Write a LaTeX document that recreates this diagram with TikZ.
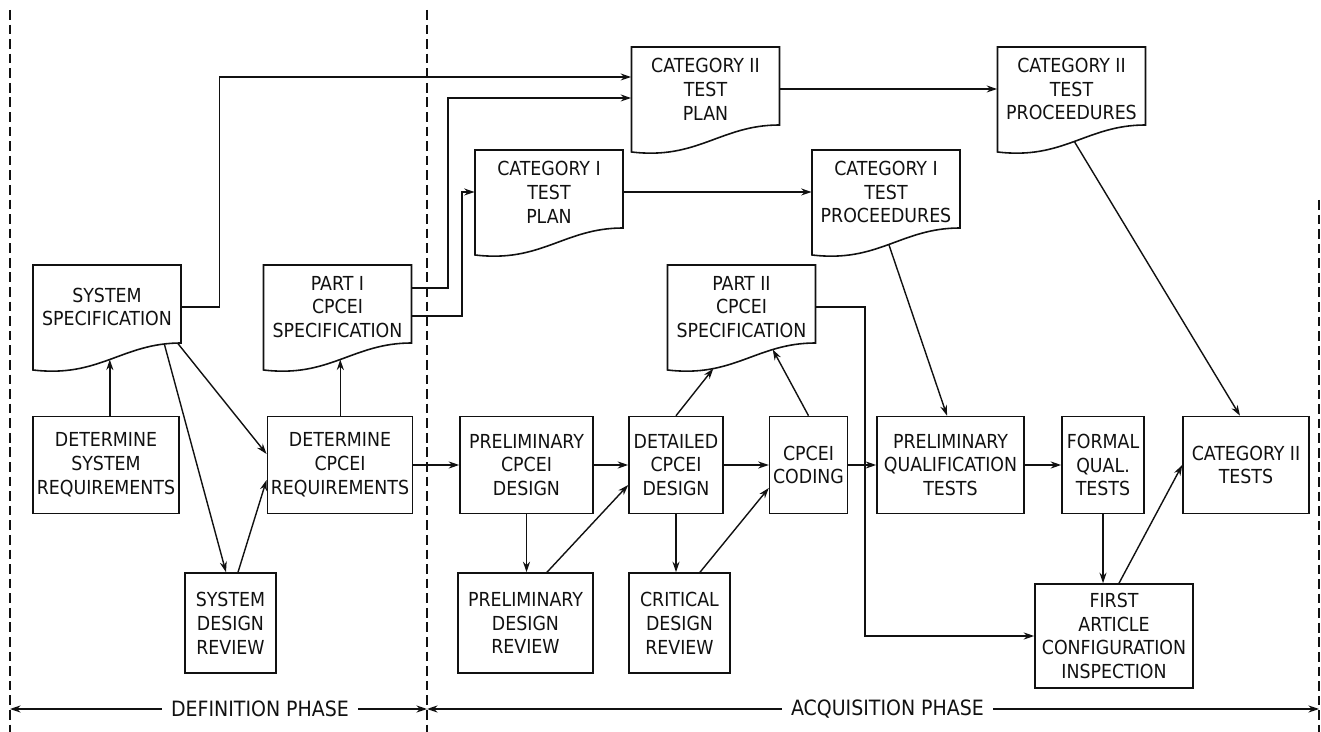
\documentclass[tikz,border=0pt]{standalone}
\usepackage{fontspec}
\newfontfamily\diagfont{DejaVu Sans Condensed}
\usetikzlibrary{arrows.meta}
\definecolor{ink}{HTML}{111111}

% outline of a document symbol round a named node, with points on its wavy foot
\newcommand{\docframe}[1]{%
  \draw[line width=0.9pt, color=ink] ([shift={(-1.48cm,-1.26cm)}]#1.center) -- ([shift={(-1.48cm,0.84cm)}]#1.center)
    -- ([shift={(1.48cm,0.84cm)}]#1.center) -- ([shift={(1.48cm,-0.72cm)}]#1.center)
    .. controls ([shift={(0.30cm,-0.72cm)}]#1.center) and ([shift={(-0.15cm,-1.42cm)}]#1.center)
    .. ([shift={(-1.48cm,-1.26cm)}]#1.center)
    coordinate[pos=0.02] (#1-w0) coordinate[pos=0.1] (#1-w1) coordinate[pos=0.28] (#1-w2)
    coordinate[pos=0.5] (#1-w3) coordinate[pos=0.73] (#1-w4) -- cycle;}

\begin{document}
\begin{tikzpicture}[x=0.02cm, y=-0.02cm,
    stepbox/.style={draw=ink, line width=0.9pt, minimum height=1.94cm, inner sep=2pt,
                    align=center, text=ink, font=\diagfont\fontsize{11pt}{13.6pt}\selectfont},
    docbox/.style={minimum width=2.96cm, inner sep=2pt, align=center, text=ink,
                   font=\diagfont\fontsize{11pt}{13.6pt}\selectfont},
    phaselabel/.style={inner sep=5pt, text=ink, font=\diagfont\fontsize{12pt}{14pt}\selectfont},
    flow/.style={line width=0.8pt, color=ink, -{Stealth[length=6pt,width=4pt]}},
    divider/.style={line width=0.8pt, color=ink, dash pattern=on 5.5pt off 2.8pt}]
    \useasboundingbox (0,0) rectangle (1321,732);

    % phase boundaries
    \draw[divider] (10,10) -- (10,732);
    \draw[divider] (427,10) -- (427,732);
    \draw[divider] (1319,200) -- (1319,732);

    % documents
    \node[docbox] (ssp) at (107,307) {SYSTEM\\SPECIFICATION};
    \node[docbox] (p1s) at (337.5,307) {PART I\\CPCEI\\SPECIFICATION};
    \node[docbox] (c2p) at (705.5,89) {CATEGORY II\\TEST\\PLAN};
    \node[docbox] (c1p) at (549,192) {CATEGORY I\\TEST\\PLAN};
    \node[docbox] (c1r) at (886,192) {CATEGORY I\\TEST\\PROCEEDURES};
    \node[docbox] (c2r) at (1071.5,89) {CATEGORY II\\TEST\\PROCEEDURES};
    \node[docbox] (p2s) at (741.5,307) {PART II\\CPCEI\\SPECIFICATION};
    \foreach \d in {ssp,p1s,c2p,c1p,c1r,c2r,p2s} {\docframe{\d}}

    % activities
    \node[stepbox, minimum width=2.92cm] (dsr) at (106,465) {DETERMINE\\SYSTEM\\REQUIREMENTS};
    \node[stepbox, minimum width=2.88cm] (dcr) at (340,465) {DETERMINE\\CPCEI\\REQUIREMENTS};
    \node[stepbox, minimum width=1.82cm, minimum height=2cm] (sdr) at (230.5,623) {SYSTEM\\DESIGN\\REVIEW};
    \node[stepbox, minimum width=2.66cm] (pcd) at (526.5,465) {PRELIMINARY\\CPCEI\\DESIGN};
    \node[stepbox, minimum width=1.88cm] (dcd) at (676,465) {DETAILED\\CPCEI\\DESIGN};
    \node[stepbox, minimum width=1.54cm] (cod) at (808.5,465) {CPCEI\\CODING};
    \node[stepbox, minimum width=2.7cm, minimum height=2cm] (pdr) at (525.5,623) {PRELIMINARY\\DESIGN\\REVIEW};
    \node[stepbox, minimum width=2.02cm, minimum height=2cm] (cdr) at (679.5,623) {CRITICAL\\DESIGN\\REVIEW};
    \node[stepbox, minimum width=2.94cm] (pqt) at (950.5,465) {PRELIMINARY\\QUALIFICATION\\TESTS};
    \node[stepbox, minimum width=1.64cm] (fqt) at (1103,465) {FORMAL\\QUAL.\\TESTS};
    \node[stepbox, minimum width=2.52cm] (c2t) at (1246,465) {CATEGORY II\\TESTS};
    \node[stepbox, minimum width=3.16cm, minimum height=2.08cm] (fai) at (1114,636)
          {FIRST\\ARTICLE\\CONFIGURATION\\INSPECTION};

    % definition phase flow
    \draw[flow] (dsr.north -| ssp-w3) -- (ssp-w3);
    \draw[flow] (dcr.north -| p1s-w3) -- (p1s-w3);
    \draw[flow] (ssp-w1) -- ([xshift=-0.09cm]sdr.north);
    \draw[flow] (ssp-w0) -- ([yshift=0.22cm]dcr.west);
    \draw[flow] ([xshift=0.15cm]sdr.north) -- ([yshift=-0.3cm]dcr.west);

    % test plans
    \draw[flow] (ssp.east) -- ++(0.76cm,0cm) |- ([yshift=0.24cm]c2p.west);
    \draw[flow] ([yshift=0.38cm]p1s.east) -- ++(0.72cm,0cm) |- ([yshift=-0.18cm]c2p.west);
    \draw[flow] ([yshift=-0.18cm]p1s.east) -- ++(1.0cm,0cm) |- (c1p.west);
    \draw[flow] (c2p.east) -- (c2r.west);
    \draw[flow] (c1p.east) -- (c1r.west);
    \draw[flow] (c2r-w3) -- ([xshift=-0.12cm]c2t.north);
    \draw[flow] (c1r-w3) -- ([xshift=-0.07cm]pqt.north);

    % acquisition phase flow
    \draw[flow] (dcr.east) -- (pcd.west);
    \draw[flow] (pcd.east) -- (dcd.west);
    \draw[flow] (dcd.east) -- (cod.west);
    \draw[flow] (cod.east) -- (pqt.west);
    \draw[flow] (pqt.east) -- (fqt.west);
    \draw[flow] (pcd.south) -- (pcd.south |- pdr.north);
    \draw[flow] (dcd.south) -- (dcd.south |- cdr.north);
    \draw[flow] ([xshift=0.43cm]pdr.north) -- ([yshift=-0.4cm]dcd.west);
    \draw[flow] ([xshift=0.41cm]cdr.north) -- ([yshift=-0.46cm]cod.west);
    \draw[flow] (dcd.north) -- (p2s-w4);
    \draw[flow] (cod.north) -- (p2s-w2);
    \draw[flow] (p2s.east) -- ++(0.98cm,0cm) |- (fai.west);
    \draw[flow] (fqt.south) -- (fqt.south |- fai.north);
    \draw[flow] ([xshift=0.1cm]fai.north) -- (c2t.west);

    % phase spans
    \coordinate (lb) at (10,709);
    \coordinate (mb) at (427,709);
    \coordinate (rb) at (1319,709);
    \node[phaselabel] (defn) at (260,709) {DEFINITION PHASE};
    \node[phaselabel] (acqn) at (887.5,709) {ACQUISITION PHASE};
    \draw[flow] (defn) -- (lb);
    \draw[flow] (defn) -- (mb);
    \draw[flow] (acqn) -- (mb);
    \draw[flow] (acqn) -- (rb);
\end{tikzpicture}
\end{document}
